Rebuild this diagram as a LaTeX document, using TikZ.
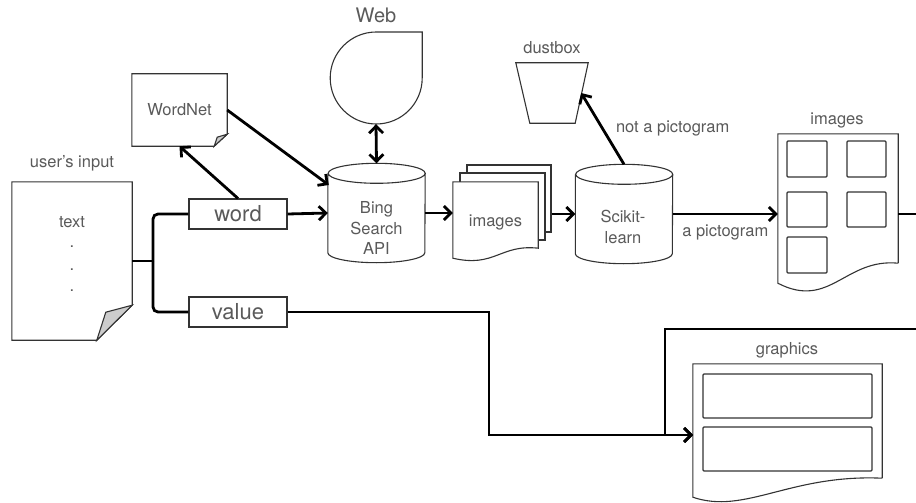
\documentclass[tikz,border=0pt]{standalone}
\usepackage{fontspec}
\setmainfont{TeX Gyre Heros}
\usetikzlibrary{arrows.meta,calc}
\definecolor{txt}{HTML}{5A5A5A}
\definecolor{edge}{HTML}{333333}
\definecolor{foldc}{HTML}{CCCCCC}
\newcommand\drawcyl[1]{%
  \draw[shp] ($(#1.north west)+(0,10)$) -- ($(#1.south west)+(0,-10)$)
    arc[start angle=180, end angle=360, x radius=48.5pt, y radius=10pt]
    -- ($(#1.north east)+(0,10)$)
    arc[start angle=0, end angle=180, x radius=48.5pt, y radius=10pt]
    arc[start angle=180, end angle=360, x radius=48.5pt, y radius=10pt];}
\begin{document}
\begin{tikzpicture}[x=1pt,y=-1pt,
  >={Straight Barb[length=7pt,width=14pt]},
  conn/.style={line width=2.8pt, black},
  arr/.style={conn, ->},
  shp/.style={draw=edge, line width=1.1pt},
  lbl/.style={text=txt, font=\fontsize{16.5}{20.5}\selectfont, inner sep=0pt, align=center},
  cylbox/.style={inner sep=0pt, minimum width=97pt, minimum height=99pt},
  keybox/.style={draw=edge, line width=1.1pt, minimum width=98pt, minimum height=30pt, inner sep=0pt, text=txt, font=\fontsize{22}{24}\selectfont}
]
\useasboundingbox (0,0) rectangle (916,503);
\clip (0,0) rectangle (916,503);

% user's input document
\node[inner sep=0pt, minimum width=120pt, minimum height=158pt] (user) at (72,261) {};
\draw[shp] (user.north west) -- (user.north east) -- ($(user.south east)+(0,-35)$) -- ($(user.south west)+(85,0)$) -- (user.south west) -- cycle;
\draw[shp, fill=foldc] ($(user.south west)+(85,0)$) -- ($(user.south west)+(94,-28)$) -- ($(user.south east)+(0,-35)$) -- cycle;
\node[lbl] (userlbl) at (72,163) {user's input};
\node[lbl] (usertext) at (72,222) {text};
\node[lbl] (dot1) at (72,247) {.};
\node[lbl] (dot2) at (72,270) {.};
\node[lbl] (dot3) at (72,291) {.};

% word / value
\node[keybox] (word) at (238,214) {word};
\node[keybox] (value) at (238,312) {value};
\coordinate (split) at (153,261);
\draw[conn] (user.east) -- (split);
\draw[conn, rounded corners=5pt] (split) |- (word.west);
\draw[conn, rounded corners=5pt] (split) |- (value.west);

% WordNet
\node[inner sep=0pt, minimum width=95pt, minimum height=72pt, lbl] (wn) at (179.5,110) {WordNet};
\draw[shp] (wn.north west) -- (wn.north east) -- ($(wn.south east)+(0,-12)$) -- ($(wn.south east)+(-13,0)$) -- (wn.south west) -- cycle;
\draw[shp, fill=foldc] ($(wn.south east)+(-13,0)$) -- ($(wn.south east)+(-10,-9)$) -- ($(wn.south east)+(0,-12)$) -- cycle;

% Bing
\node[cylbox] (bing) at (376.5,213) {};
\drawcyl{bing}
\node[lbl] (bingtext) at (376.5,228) {Bing\\Search\\API};

% Web
\node[circle, inner sep=0pt, minimum size=92pt] (web) at (376,78) {};
\draw[shp] (web.east) arc[start angle=0, end angle=-270, radius=46pt] -- ++(46pt,0pt) -- cycle;
\node[lbl, font=\fontsize{20}{22}\selectfont] (weblbl) at (376,15) {Web};

% image stack
\node[shp, fill=white, inner sep=0pt, minimum width=84pt, minimum height=67pt] (back) at (509,198.5) {};
\node[shp, fill=white, inner sep=0pt, minimum width=85pt, minimum height=67pt] (mid) at (502.5,206.5) {};
\node[inner sep=0pt, minimum width=85pt, minimum height=66pt] (stack) at (495.5,215) {};
\draw[shp, fill=white] (stack.north west) -- (stack.north east) -- (stack.south east) .. controls (500,244) and (495,268) .. ($(stack.south west)+(0,10)$) -- cycle;
\node[lbl] (stacktext) at (495.5,222) {images};

% Scikit-learn
\node[cylbox] (sk) at (624,214) {};
\drawcyl{sk}
\node[lbl] (sktext) at (623,227) {Scikit-\\learn};

% dustbox
\node[inner sep=0pt, minimum width=72pt, minimum height=60pt] (dust) at (552,93) {};
\draw[shp] (dust.north west) -- (dust.north east) -- ($(dust.south east)+(-13,0)$) -- ($(dust.south west)+(14,0)$) -- cycle;
\node[lbl] (dustlbl) at (552,48) {dustbox};

% images document
\node[inner sep=0pt, minimum width=120pt, minimum height=129pt] (imgdoc) at (838,198.5) {};
\draw[shp] (imgdoc.south east) -- (imgdoc.north east) -- (imgdoc.north west) -- ($(imgdoc.south west)+(0,20)$) .. controls (830,310) and (845,258) .. (imgdoc.south east);
\draw[shp, rounded corners=1pt] (787,141) rectangle (827,177);
\draw[shp, rounded corners=1pt] (847,141) rectangle (886,177);
\draw[shp, rounded corners=1pt] (787,192) rectangle (827,227);
\draw[shp, rounded corners=1pt] (847,192) rectangle (886,227);
\draw[shp, rounded corners=1pt] (787,237) rectangle (827,273);
\node[lbl] (imglbl) at (837,120) {images};

% graphics document
\node[inner sep=0pt, minimum width=189pt, minimum height=114pt] (gfx) at (787.5,421) {};
\draw[shp] (gfx.south east) -- (gfx.north east) -- (gfx.north west) -- ($(gfx.south west)+(0,19)$) .. controls (745,515) and (790,474) .. (gfx.south east);
\draw[shp, rounded corners=1pt] (703,374) rectangle (872,418);
\draw[shp, rounded corners=1pt] (703,427) rectangle (872,471);
\node[lbl] (gfxlbl) at (787,350) {graphics};
\coordinate (gin) at (693,435);

% connectors
\draw[arr] (word.north) -- (wn.south);
\draw[arr] (wn.east) -- ($(bing.west)+(1,-28)$);
\draw[arr] (word.east) -- (bing.west);
\draw[conn, <->] (web.south) -- (bing.north);
\draw[arr] (bing.east) -- (stack.west |- bing.east);
\draw[arr] (back.east |- sk.west) -- (sk.west);
\draw[arr] (sk.north) -- node[lbl, pos=0.5, right=12pt] (notlbl) {not a pictogram} ($(dust.east)+(-7,0)$);
\draw[arr] (sk.east) -- node[lbl, below=9pt] (alabel) {a pictogram} (imgdoc.west |- sk.east);
\draw[arr] (value.east) -- (489,312) -- (489,435) -- (gin);
\draw[arr] (imgdoc.east |- sk.east) -- (935,214) -- (935,329) -- (665,329) -- (665,435) -- (gin);
\end{tikzpicture}
\end{document}
